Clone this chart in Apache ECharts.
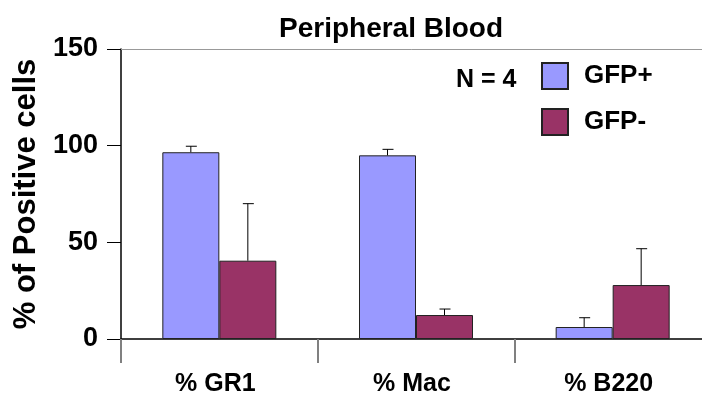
<!DOCTYPE html>
<html lang="en">

<head>
    <meta charset="UTF-8">
    <title>Peripheral Blood</title>
    <script src="https://cdn.jsdelivr.net/npm/echarts@6/dist/echarts.min.js"></script>
    <style>
        body { margin: 0; background: #fff; }
    </style>
</head>

<body>
    <div id="chart" style="width: 702px; height: 397px;"></div>
    <script>
        // data
        const categories = ['% GR1', '% Mac', '% B220'];
        const gfpPos = [96.6, 95.0, 6.2];
        const gfpPosErr = [3.1, 3.1, 4.8];
        const gfpNeg = [40.5, 12.4, 27.9];
        const gfpNegErr = [29.5, 3.1, 18.8];
        const yTicks = [0, 50, 100, 150];

        const font = 'Liberation Sans, Arial, sans-serif';
        const barW = 57;

        const chart = echarts.init(document.getElementById('chart'));

        // error bar, drawn above the bar top, shifted to the bar centre
        function errorSeries(name, values, errs, shift) {
            return {
                type: 'custom',
                name: name + ' err',
                z: 5,
                data: values.map((v, i) => [i, v, v + errs[i]]),
                renderItem: function (params, api) {
                    const low = api.coord([api.value(0), api.value(1)]);
                    const high = api.coord([api.value(0), api.value(2)]);
                    const x = low[0] + shift;
                    const style = { stroke: '#000', lineWidth: 1 };
                    return {
                        type: 'group',
                        children: [
                            { type: 'line', shape: { x1: x, y1: low[1], x2: x, y2: high[1] }, style: style },
                            { type: 'line', shape: { x1: x - 5, y1: high[1], x2: x + 6, y2: high[1] }, style: style }
                        ]
                    };
                }
            };
        }

        chart.setOption({
            animation: false,
            textStyle: { fontFamily: font },
            title: [{
                text: 'Peripheral Blood',
                left: 274,
                top: 10,
                textStyle: { fontSize: 28, fontWeight: 'bold', color: '#000', fontFamily: font }
            }, {
                text: 'N = 4',
                left: 451,
                top: 63,
                textStyle: { fontSize: 25, fontWeight: 'bold', color: '#000', fontFamily: font }
            }],
            legend: {
                data: ['GFP+', 'GFP-'],
                orient: 'vertical',
                left: 541,
                top: 62,
                padding: 0,
                icon: 'rect',
                itemWidth: 26,
                itemHeight: 26,
                itemGap: 18,
                textStyle: { fontSize: 26, fontWeight: 'bold', color: '#000', fontFamily: font, padding: [0, 0, 0, 11] }
            },
            grid: { left: 121, top: 49, width: 590, bottom: 58, outerBoundsMode: 'none' },
            xAxis: [{
                type: 'category',
                data: categories,
                axisLine: { lineStyle: { color: '#000', width: 1.5 } },
                axisTick: { show: true, length: 24, lineStyle: { color: '#808080', width: 2 } },
                axisLabel: { fontSize: 25, fontWeight: 'bold', color: '#000', margin: 33, padding: [0, 8, 0, 0], fontFamily: font }
            }, {
                type: 'category',
                position: 'top',
                data: categories,
                axisLine: { lineStyle: { color: '#999', width: 1 } },
                axisTick: { show: false },
                axisLabel: { show: false }
            }],
            yAxis: {
                type: 'value',
                min: yTicks[0],
                max: yTicks[yTicks.length - 1],
                interval: 50,
                name: '% of Positive cells',
                nameLocation: 'middle',
                nameGap: 79,
                nameTextStyle: { fontSize: 31, fontWeight: 'bold', color: '#000', fontFamily: font },
                axisLine: { show: true, lineStyle: { color: '#000', width: 1.5 } },
                axisTick: { show: true, length: 14, lineStyle: { color: '#000', width: 1 } },
                axisLabel: { fontSize: 27, fontWeight: 'bold', color: '#000', margin: 23, fontFamily: font },
                splitLine: { show: false }
            },
            series: [{
                name: 'GFP+',
                type: 'bar',
                data: gfpPos,
                barWidth: barW,
                barGap: '0%',
                itemStyle: { color: '#9999FF', borderColor: '#222', borderWidth: 1 }
            }, {
                name: 'GFP-',
                type: 'bar',
                data: gfpNeg,
                barWidth: barW,
                barGap: '0%',
                itemStyle: { color: '#993366', borderColor: '#222', borderWidth: 1 }
            },
            errorSeries('GFP+', gfpPos, gfpPosErr, -barW / 2),
            errorSeries('GFP-', gfpNeg, gfpNegErr, barW / 2)
            ]
        });
    </script>
</body>

</html>
